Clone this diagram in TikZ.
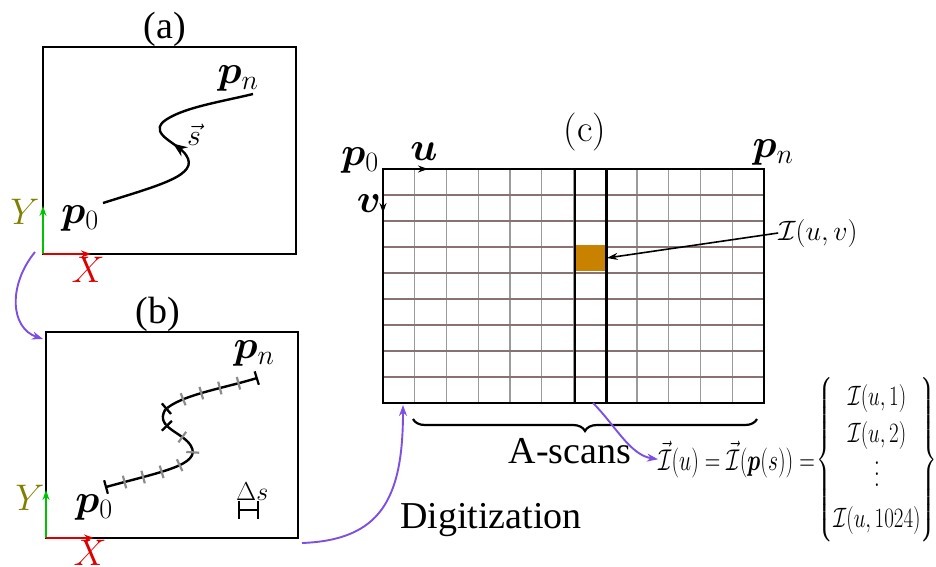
\RequirePackage{fix-cm}
\documentclass[tikz,border=0pt]{standalone}
\usepackage{amsmath}
\usepackage{bm}
\usepackage{fontspec}
\setmainfont{Liberation Serif}
\newfontfamily\lmfont{Latin Modern Roman}
\newcommand\tallvdots{\vbox{\baselineskip=11pt\lineskiplimit=-30pt\hbox{$.$}\hbox{$.$}\hbox{$.$}}}
\usetikzlibrary{arrows.meta,decorations.markings,decorations.pathreplacing}
\definecolor{purp}{RGB}{125,80,225}
\definecolor{cellc}{RGB}{200,130,0}
\definecolor{hlinec}{RGB}{135,115,115}
\definecolor{vlinec}{RGB}{155,155,155}
\definecolor{ycol}{RGB}{128,128,0}
\definecolor{xcol}{RGB}{220,0,0}
\definecolor{gcol}{RGB}{0,195,0}
\definecolor{tickgray}{RGB}{140,140,140}
\begin{document}
\begin{tikzpicture}[x=1pt,y=-1pt,
  lbl/.style={inner sep=0pt, outer sep=0pt, font=\fontsize{38}{44}\selectfont},
  mlbl/.style={inner sep=0pt, outer sep=0pt, font=\fontsize{40}{46}\selectfont},
  axlbl/.style={inner sep=0pt, outer sep=0pt, font=\fontsize{37}{42}\selectfont},
  frame/.style={draw, line width=2.5pt, inner sep=0pt, outer sep=0pt},
  curv/.style={line width=2.4pt},
  purparrow/.style={draw=purp, line width=1.9pt, -{Stealth[length=11pt,width=8pt]}},
  axarrow/.style={line width=2pt, -{Stealth[length=10pt,width=7pt]}},
  blacktick/.style={draw=black, line width=2.2pt},
  graytick/.style={draw=tickgray, line width=2.2pt},
]
\useasboundingbox (0,0) rectangle (936,566);

% ---------- (a) ----------
\node[lbl, anchor=base] (la) at (165,38) {(a)};
\node[frame, minimum width=253pt, minimum height=207pt] (A) at (169.5,150.5) {};
\draw[gcol, axarrow] (A.south west) -- ++(0,-48);
\draw[xcol, axarrow] (A.south west) -- ++(48,0);
\node[axlbl, text=ycol] (ya) at (25,212) {$Y$};
\node[axlbl, text=xcol] (xa) at (88,270) {$X$};
\node[mlbl] (p0a) at (80,218) {$\bm p_0$};
\node[mlbl] (pna) at (238,78) {$\bm p_n$};
\node[inner sep=0pt, font=\fontsize{30}{34}\selectfont] (sa) at (194,135) {$\vec s$};
\draw[curv, postaction={decorate, decoration={markings,
    mark=at position 0.5 with {\arrow{Stealth[length=14pt,width=11pt]}}}}]
  (103,203) .. controls (160,185) and (200,175) .. (186,155)
  .. controls (178,143) and (150,135) .. (163,122)
  .. controls (180,108) and (220,102) .. (253,94);

% ---------- (b) ----------
\node[lbl, anchor=base] (lb) at (158,323) {(b)};
\node[frame, minimum width=252pt, minimum height=206pt] (B) at (172,435) {};
\draw[gcol, axarrow] (B.south west) -- ++(0,-48);
\draw[xcol, axarrow] (B.south west) -- ++(48,0);
\node[axlbl, text=ycol] (yb) at (30,498) {$Y$};
\node[axlbl, text=xcol] (xb) at (90,553) {$X$};
\node[mlbl] (p0b) at (94,507) {$\bm p_0$};
\node[mlbl] (pnb) at (254,353) {$\bm p_n$};
\draw[curv,
  postaction={decorate, decoration={markings,
    mark=between positions 0.0769 and 0.93 step 0.0769 with {\draw[graytick] (0,-6.5pt) -- (0,6.5pt);}}},
  postaction={decorate, decoration={markings,
    mark=at position 0 with {\draw[blacktick] (0,-7pt) -- (0,7pt);},
    mark=at position 0.538 with {\draw[blacktick] (0,-7pt) -- (0,7pt);},
    mark=at position 0.615 with {\draw[blacktick] (0,-7pt) -- (0,7pt);},
    mark=at position 0.999 with {\draw[blacktick] (0,-7pt) -- (0,7pt);}}}]
  (106,487) .. controls (160,472) and (202,465) .. (191,446)
  .. controls (183,432) and (155,428) .. (165,410)
  .. controls (180,395) and (225,388) .. (257,378);
\node[inner sep=0pt, anchor=base west, font=\fontsize{26}{30}\selectfont] (dsl) at (236,500) {$\Delta s$};
\coordinate (dsa) at (238,510);
\coordinate (dsb) at (259,510);
\draw[line width=2.4pt, {Bar[width=18pt,line width=2.4pt]}-{Bar[width=18pt,line width=2.4pt]}] (dsa) -- (dsb);

% ---------- (c) ----------
\node[lbl, anchor=base] (lc) at (585,141) {\lmfont (c)};
\foreach \i in {1,...,11} \draw[vlinec, line width=1.2pt] (383+\i*31.75,169) -- (383+\i*31.75,403);
\foreach \j in {1,...,8} \draw[hlinec, line width=1.4pt] (383,169+\j*26) -- (764,169+\j*26);
\node[fill=cellc, inner sep=0pt, outer sep=0pt, minimum width=31.75pt, minimum height=26pt] (cell) at (590.9,258) {};
\draw[line width=2.5pt] (574.75,169) -- (574.75,403);
\draw[line width=2.5pt] (606.5,169) -- (606.5,403);
\node[frame, minimum width=381pt, minimum height=234pt] (G) at (573.5,286) {};
\draw[axarrow, line width=1.5pt, -{Stealth[length=10pt,width=7pt]}] (G.north west) -- ++(45,0);
\draw[axarrow, line width=1.5pt, -{Stealth[length=10pt,width=7pt]}] (G.north west) -- ++(0,44);
\node[mlbl] (p0c) at (360,160) {$\bm p_0$};
\node[mlbl] (uc) at (424,152) {$\bm u$};
\node[mlbl] (vc) at (369,204) {$\bm v$};
\node[mlbl] (pnc) at (773,152) {$\bm p_n$};
\node[inner sep=0pt, font=\fontsize{28}{32}\selectfont] (iuv) at (818,233) {$\mathcal{I}(u,v)$};
\draw[line width=1.6pt, -{Stealth[length=11pt,width=7pt]}] (iuv.west) -- (cell.east);

\coordinate (br1) at (413,419);
\coordinate (br2) at (757,419);
\draw[line width=2.2pt, decorate, decoration={brace, amplitude=12pt, mirror}] (br1) -- (br2);
\node[lbl, anchor=base] (asc) at (570,463) {A-scans};
\node[lbl, anchor=base] (dig) at (491,528) {Digitization};

\node[inner sep=0pt, anchor=base west, font=\fontsize{30}{36}\selectfont] (eq) at (658,470)
  {\scalebox{0.72}[1]{$\vec{\mathcal I}(u)=\vec{\mathcal I}(\bm p(s))=$}};
\node[inner sep=0pt, font=\fontsize{28}{33}\selectfont] (vec) at (877,460)
  {\scalebox{0.75}[1]{$\left\{\begin{matrix}\mathcal I(u,1)\\[4pt] \mathcal I(u,2)\\[10pt] \tallvdots\\[8pt] \mathcal I(u,1024)\end{matrix}\right\}$}};

% ---------- purple connectors ----------
\coordinate (pa) at (35,252);
\coordinate (pb) at (43,339);
\draw[purparrow] (pa) .. controls (8,285) and (10,328) .. (pb);
\coordinate (dg0) at (302,543);
\coordinate (dg1) at (403,405);
\draw[purparrow] (dg0) .. controls (380,540) and (403,500) .. (dg1);
\coordinate (as0) at (593,403);
\draw[purparrow] (as0) .. controls (615,425) and (630,455) .. (eq.west);
\end{tikzpicture}
\end{document}
